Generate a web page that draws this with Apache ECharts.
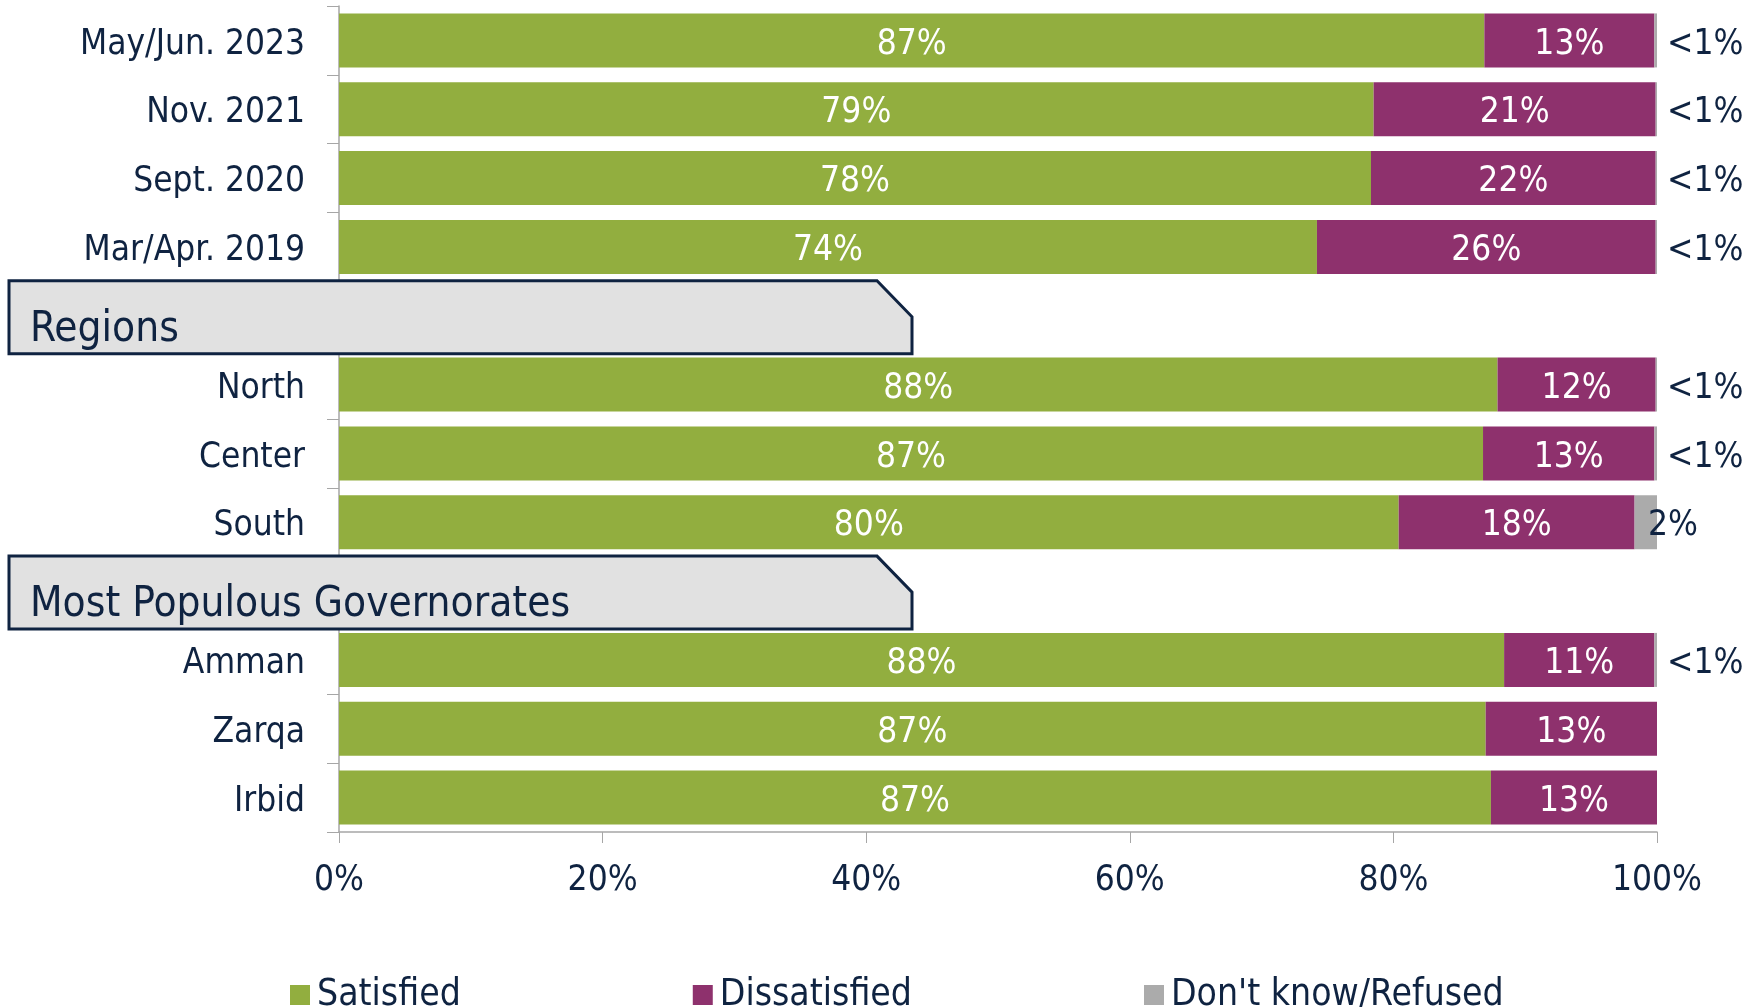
<!DOCTYPE html>
<head>
    <meta charset="utf-8">
    <title>ECharts</title>
    <script src="https://cdn.jsdelivr.net/npm/echarts@6/dist/echarts.min.js"></script>
    <style>
        html, body { margin: 0; padding: 0; background: #fff; }
    </style>
</head>
<body>
    <div id="container" style="width:1743px;height:1007px"></div>
    <script type="text/javascript">

        // categories top to bottom; the two header rows are empty slots
        var categories = ['May/Jun. 2023', 'Nov. 2021', 'Sept. 2020', 'Mar/Apr. 2019', 'Regions',
            'North', 'Center', 'South', 'Most Populous Governorates', 'Amman', 'Zarqa', 'Irbid'];
        var headers = ['Regions', 'Most Populous Governorates'];

        var satisfied    = [86.9, 78.5, 78.3, 74.2, null, 87.9, 86.8, 80.4, null, 88.4, 87.0, 87.4];
        var dissatisfied = [12.9, 21.4, 21.6, 25.7, null, 12.0, 13.0, 17.9, null, 11.4, 13.0, 12.6];
        var dontKnow     = [0.2, 0.1, 0.1, 0.1, null, 0.1, 0.2, 1.7, null, 0.2, 0, 0];

        var xTicks = [0, 20, 40, 60, 80, 100];

        var NAVY = '#0f2341';
        var FONT = "'DejaVu Sans Condensed', 'DejaVu Sans', sans-serif";

        var dom = document.getElementById("container");
        var myChart = echarts.init(dom);

        function pct(p) {
            if (p.value == null || p.value === 0) return '';
            if (p.value < 1) return '<1%';
            return Math.round(p.value) + '%';
        }

        // the 2% label sits a bit into the grey bar, the <1% ones sit clear of it
        var dkData = dontKnow.map(function (v) {
            if (v != null && v >= 1) return { value: v, label: { offset: [-19, 4] } };
            return v;
        });

        var option = {
            animation: false,
            textStyle: { fontFamily: FONT },
            grid: { left: 339, right: 86, top: 6, bottom: 175 },
            legend: {
                left: 285, top: 970,
                itemWidth: 20, itemHeight: 20, itemGap: 232,
                icon: 'rect',
                textStyle: { color: NAVY, fontSize: 37, fontFamily: FONT, lineHeight: 40, padding: [0, 0, 0, 2] },
                data: ['Satisfied', 'Dissatisfied', "Don't know/Refused"]
            },
            xAxis: {
                type: 'value', min: xTicks[0], max: xTicks[xTicks.length - 1], interval: 20,
                axisLine: { show: true, lineStyle: { color: '#a6a6a6', width: 1.5 } },
                axisTick: { show: true, length: 11, lineStyle: { color: '#a6a6a6' } },
                splitLine: { show: false },
                axisLabel: { color: NAVY, fontSize: 35, fontFamily: FONT, margin: 31, formatter: '{value}%' }
            },
            yAxis: {
                type: 'category', inverse: true, data: categories,
                axisLine: { show: true, lineStyle: { color: '#a6a6a6', width: 1.5 } },
                axisTick: { show: true, length: 12, lineStyle: { color: '#a6a6a6' } },
                axisLabel: {
                    color: NAVY, fontSize: 35, fontFamily: FONT, margin: 34,
                    formatter: function (v) { return headers.indexOf(v) >= 0 ? '' : '{l|' + v + '}'; },
                    rich: { l: { color: NAVY, fontSize: 35, fontFamily: FONT, padding: [8, 0, 0, 0] } }
                }
            },
            series: [
                {
                    name: 'Satisfied', type: 'bar', stack: 'all', barWidth: 54,
                    itemStyle: { color: '#92ae3f' },
                    label: { show: true, position: 'inside', offset: [0, 4], color: '#fff', fontSize: 35, fontFamily: FONT, formatter: pct },
                    data: satisfied
                },
                {
                    name: 'Dissatisfied', type: 'bar', stack: 'all', barWidth: 54,
                    itemStyle: { color: '#8e316d' },
                    label: { show: true, position: 'inside', offset: [0, 4], color: '#fff', fontSize: 35, fontFamily: FONT, formatter: pct },
                    data: dissatisfied
                },
                {
                    name: "Don't know/Refused", type: 'bar', stack: 'all', barWidth: 54,
                    itemStyle: { color: '#ababab' },
                    label: { show: true, position: 'right', distance: 10, offset: [0, 4], color: NAVY, fontSize: 35, fontFamily: FONT, formatter: pct },
                    data: dkData
                }
            ]
        };
        myChart.setOption(option);

        // header boxes with the clipped top-right corner, placed on their category slots
        var graphics = [];
        headers.forEach(function (h, i) {
            var cy = myChart.convertToPixel({ yAxisIndex: 0 }, h);
            var top = cy - 35, bot = cy + 38;
            graphics.push({
                type: 'polygon', z: 100,
                shape: { points: [[9, top], [877, top], [912, top + 36], [912, bot], [9, bot]] },
                style: { fill: '#e1e1e1', stroke: NAVY, lineWidth: 3 }
            });
            graphics.push({
                type: 'text', z: 101, x: 30, y: cy + 14,
                style: { text: h, fill: NAVY, fontSize: 42, fontFamily: FONT, verticalAlign: 'middle', align: 'left' }
            });
        });
        myChart.setOption({ graphic: graphics });

    </script>
</body>
